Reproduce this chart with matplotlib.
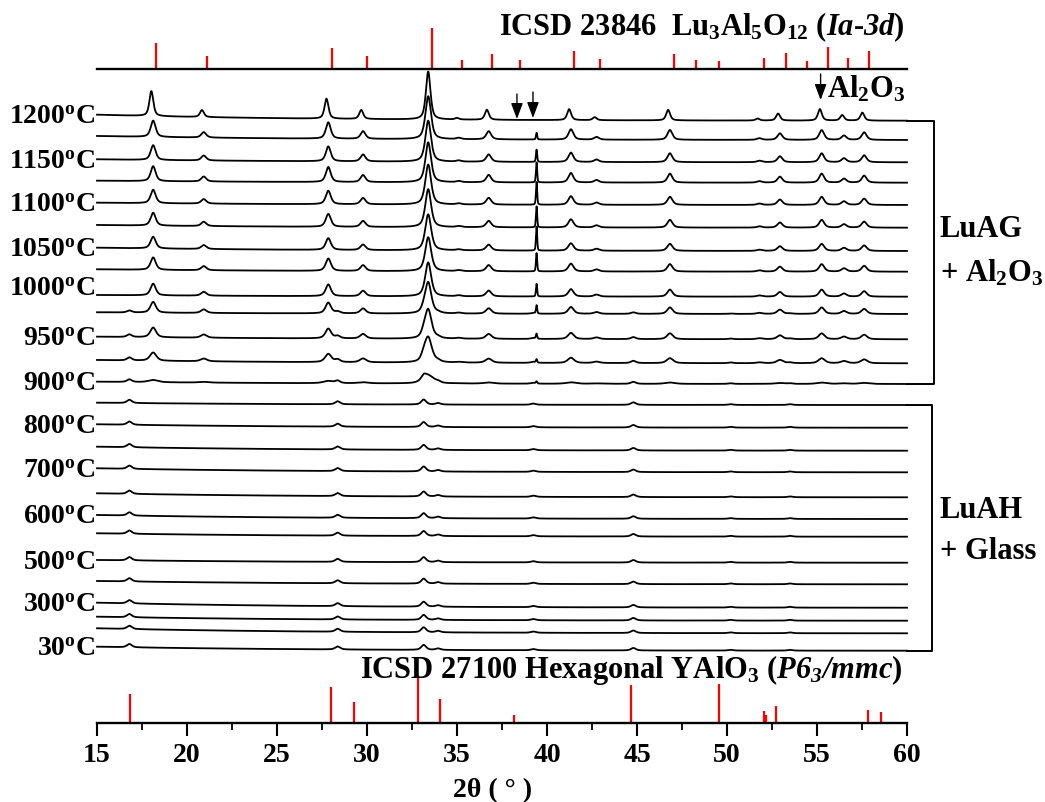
import numpy as np
import matplotlib
matplotlib.use('Agg')
import matplotlib.pyplot as plt
from matplotlib.ticker import MultipleLocator

plt.rcParams['font.family'] = ['Liberation Serif', 'DejaVu Serif']
plt.rcParams['font.weight'] = 'bold'
plt.rcParams['mathtext.fontset'] = 'custom'
plt.rcParams['mathtext.rm'] = 'Liberation Serif:bold'
plt.rcParams['mathtext.bf'] = 'Liberation Serif:bold'
plt.rcParams['mathtext.it'] = 'Liberation Serif:italic:bold'
plt.rcParams['mathtext.bfit'] = 'Liberation Serif:italic:bold'

# ---------------- data ----------------
temps = [1200, 1175, 1150, 1125, 1100, 1075, 1050, 1025, 1000, 975, 950, 925, 900,
         850, 800, 750, 700, 650, 600, 550, 500, 400, 300, 200, 100, 30]
labeled = [1200, 1150, 1100, 1050, 1000, 950, 900, 800, 700, 600, 500, 300, 30]

# LuAG reflections seen in the measured patterns (2theta, deg) and heights (px-like units)
luag_pos = [18.12, 20.93, 27.85, 29.78, 35.10, 36.76, 41.33, 42.75, 46.83,
            51.80, 52.94, 55.26, 56.50, 57.62]
luag_h1200 = [25, 7, 20, 9, 1.5, 10, 11, 3, 10.5, 2, 7, 11.5, 5.5, 8]
luag_h = [15, 5, 15, 7, 1.2, 7.5, 9.5, 2.5, 9, 1.5, 6, 9, 4, 7]
luag_scale = [1.0, 1.09, 0.99, 1.0, 0.9, 0.86, 0.78, 0.83, 0.78, 0.72, 0.65, 0.55, 0.15,
              0, 0, 0, 0, 0, 0, 0, 0, 0, 0, 0, 0, 0]
luag_fwhm = [0.26, 0.32, 0.32, 0.32, 0.33, 0.33, 0.34, 0.34, 0.34, 0.36, 0.38, 0.42, 0.65,
             0.3, 0.3, 0.3, 0.3, 0.3, 0.3, 0.3, 0.3, 0.3, 0.3, 0.3, 0.3, 0.3]
main_pos = 33.40
main_h = [48, 43, 41, 40, 40, 38, 36, 34, 34, 31, 29, 25, 8,
          0, 0, 0, 0, 0, 0, 0, 0, 0, 0, 0, 0, 0]

# sharp Al2O3 reflection
al_pos = 39.42
al_h = [0, 6.7, 12.3, 20, 22.7, 21, 24, 18.3, 12.7, 8.3, 5, 3.3, 2,
        0, 0, 0, 0, 0, 0, 0, 0, 0, 0, 0, 0, 0]

# hexagonal LuAlO3 (LuAH) reflections
luah_pos = [16.80, 28.37, 33.15, 33.95, 39.24, 44.80, 50.20, 53.50]
luah_h = [3.3, 3.0, 5.0, 1.5, 1.2, 2.5, 0.8, 0.8]
luah_scale = [0, 0, 0, 0, 0, 0, 0, 0, 0, 0.6, 0.8, 0.9, 0.8,
              1, 1, 1, 1, 1, 1, 1, 1, 1, 1, 1, 1, 1]

# sloping background amplitude of each pattern
bg_drop = [6, 4, 3, 2, 2.3, 2.7, 3.3, 2.4, 1.7, 1.7, 2.6, 3.3, 2.3,
           2.3, 3.4, 4, 4, 4, 4, 3.4, 2.7, 3.3, 5, 4, 5, 4]

# reference stick patterns (relative intensity, %)
ref_luag_pos = [18.28, 21.09, 28.04, 30.00, 33.63, 35.30, 36.96, 38.52, 41.52, 42.94,
                47.04, 48.30, 49.57, 52.06, 53.26, 54.43, 55.60, 56.74, 57.90]
ref_luag_int = [63, 33, 51, 32, 100, 22, 37, 21, 43, 25, 36, 22, 20, 26, 40, 20, 53, 26, 43]
ref_yalo_pos = [16.85, 28.00, 29.28, 32.85, 34.07, 38.15, 44.65, 49.54, 52.06, 52.17,
                52.70, 57.85, 58.57]
ref_yalo_int = [61, 75, 43, 100, 49, 17, 79, 82, 24, 17, 36, 28, 22]

# ---------------- layout ----------------
# vertical position (pixel row from top) of the right end of each pattern
offsets = [120.7, 140, 162.3, 182.7, 205, 227.7, 251, 271.7, 296.7, 314, 339.3, 363.3, 384,
           405, 427.7, 450.7, 472.3, 497.3, 519, 536.7, 562.7, 584.3, 607.7, 620.7, 633.3, 650.7]
label_shift = {1000: -9}

W, Hf = 1045, 802
H = 723.0
fig = plt.figure(figsize=(W / 100, Hf / 100), dpi=100)
ax = fig.add_axes([97 / W, (Hf - H) / Hf, 810 / W, H / Hf])
ax.set_xlim(15, 60)
ax.set_ylim(0, H)


def py(p):
    return H - p


def xp(px):
    return (px - 97) / 18.0 + 15


def pv(x, x0, fwhm, eta=0.6):
    g = np.exp(-4 * np.log(2) * ((x - x0) / fwhm) ** 2)
    l = 1 / (1 + 4 * ((x - x0) / fwhm) ** 2)
    return eta * l + (1 - eta) * g


x = np.linspace(15, 60, 4501)
bg_shape = (np.exp(-(x - 15) / 12) - np.exp(-45 / 12)) / (1 - np.exp(-45 / 12))

for i, t in enumerate(temps):
    y = np.full_like(x, py(offsets[i])) + bg_drop[i] * bg_shape
    if i == 0:
        for p, h in zip(luag_pos, luag_h1200):
            y += h * pv(x, p - 0.1, luag_fwhm[i])
    elif luag_scale[i] > 0:
        for p, h in zip(luag_pos, luag_h):
            y += h * luag_scale[i] * pv(x, p, luag_fwhm[i])
    if main_h[i] > 0:
        y += main_h[i] * pv(x, main_pos, luag_fwhm[i] * 1.15)
    if al_h[i] > 0:
        y += al_h[i] * pv(x, al_pos, 0.08, 0.3)
    if luah_scale[i] > 0:
        for p, h in zip(luah_pos, luah_h):
            y += h * luah_scale[i] * pv(x, p, 0.32)
    ax.plot(x, y, color='black', lw=1.3, zorder=3, clip_on=False)
    if t in labeled:
        yc = offsets[i] - bg_drop[i] + label_shift.get(t, 0)
        ax.text(xp(95), py(yc + 9.5), r'%d$^{\mathbf{o}}$C' % t, ha='right', va='baseline',
                fontsize=20, fontweight='bold', clip_on=False)

# top reference (LuAG) sticks
top_base = py(69)
ax.plot([15, 60], [top_base, top_base], color='black', lw=1.7, clip_on=False, zorder=4)
ax.vlines(ref_luag_pos, top_base, top_base + np.array(ref_luag_int) * 0.407,
          color='red', lw=1.6, zorder=2)
ax.text(xp(905), py(35), r'ICSD 23846  Lu$_{\mathbf{3}}$Al$_{\mathbf{5}}$O$_{\mathbf{12}}$ '
        r'($\mathbfit{Ia}$-$\mathbfit{3d}$)', ha='right', va='baseline', fontsize=22,
        fontweight='bold')

# bottom reference (hexagonal YAlO3) sticks
ax.vlines(ref_yalo_pos, 0, np.array(ref_yalo_int) * 0.48, color='red', lw=1.6, zorder=2)
ax.text(xp(903), py(678), r'ICSD 27100 Hexagonal YAlO$_{\mathbf{3}}$ '
        r'($\mathbfit{P6}_{\mathbfit{3}}\mathbfit{/mmc}$)', ha='right', va='baseline',
        fontsize=22, fontweight='bold', zorder=5)

# arrows for Al2O3
arrow_kw = dict(arrowstyle='-|>,head_length=0.8,head_width=0.3', color='black', lw=1.0,
                mutation_scale=12, shrinkA=0, shrinkB=0)
for ax_x, y0, y1 in [(38.33, 94, 119), (39.22, 92, 118), (55.2, 74, 100)]:
    ax.annotate('', xy=(ax_x, py(y1)), xytext=(ax_x, py(y0)), arrowprops=arrow_kw,
                annotation_clip=False)
ax.text(xp(827), py(97), r'Al$_{\mathbf{2}}$O$_{\mathbf{3}}$', ha='left', va='baseline',
        fontsize=22, fontweight='bold')

# phase brackets
for top, bot, xb in [(offsets[0], offsets[12], 934), (offsets[13], offsets[-1], 932)]:
    ax.plot([60, xp(xb), xp(xb), 60], [py(top), py(top), py(bot), py(bot)],
            color='black', lw=1.4, clip_on=False)
for txt, yc in [('LuAG', 227), (r'+ Al$_{\mathbf{2}}$O$_{\mathbf{3}}$', 271),
                ('LuAH', 508), ('+ Glass', 549)]:
    ax.text(xp(940), py(yc + 10), txt, ha='left', va='baseline', fontsize=22,
            fontweight='bold', clip_on=False)

# axes styling
for s in ['left', 'right', 'top']:
    ax.spines[s].set_visible(False)
ax.spines['bottom'].set_linewidth(1.7)
ax.set_yticks([])
ax.set_xticks(range(15, 61, 5))
ax.xaxis.set_minor_locator(MultipleLocator(2.5))
ax.tick_params(axis='x', which='major', direction='out', length=9.5, width=1.5,
               labelsize=20, pad=5)
ax.tick_params(axis='x', which='minor', direction='out', length=5, width=1.3)
for lab in ax.get_xticklabels():
    lab.set_fontweight('bold')
ax.text(xp(493), py(797), '2θ ( ° )', ha='center', va='baseline', fontsize=20,
        fontweight='bold')

fig.savefig('out.png', dpi=100)
